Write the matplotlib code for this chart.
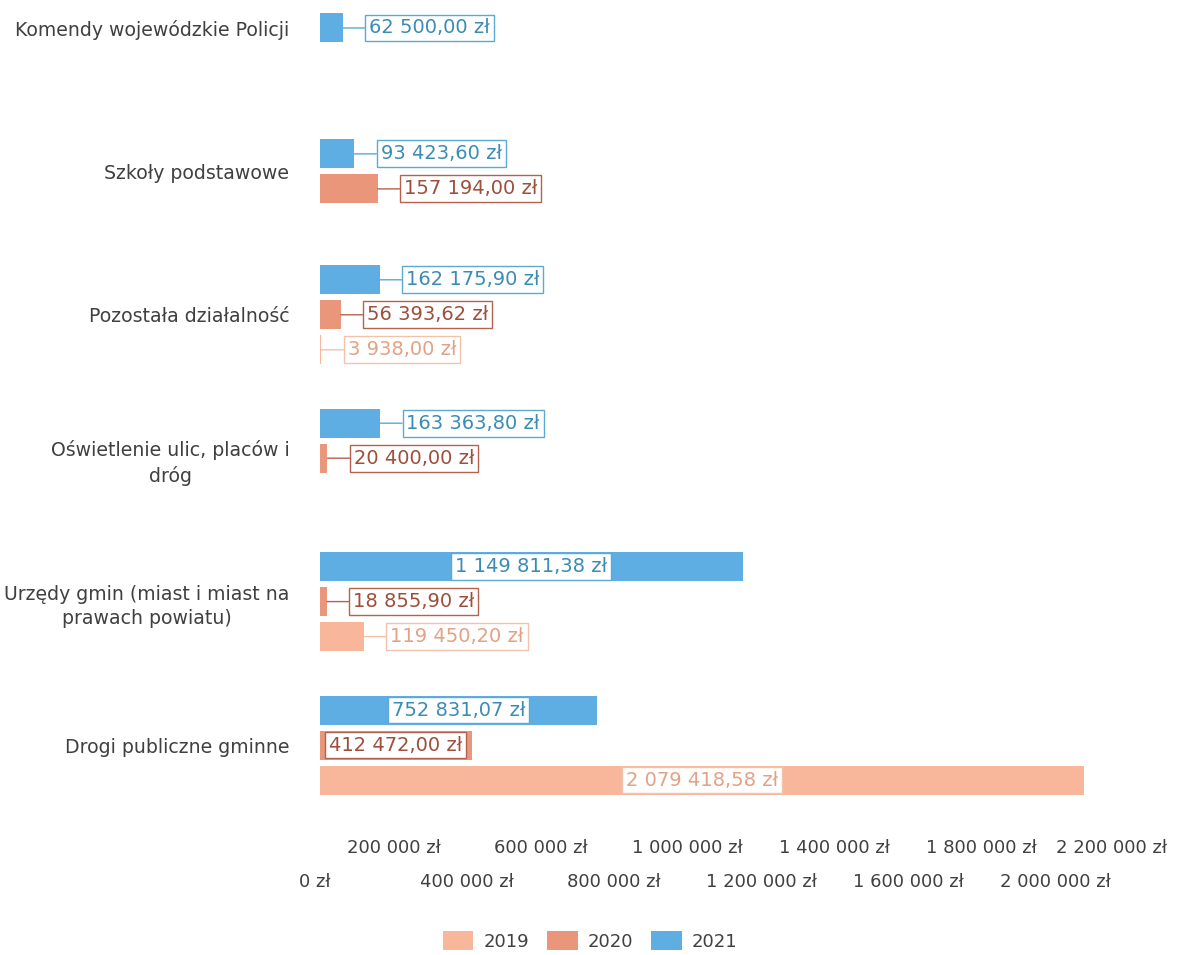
import numpy as np
import matplotlib
matplotlib.use("Agg")
import matplotlib.pyplot as plt
from matplotlib.transforms import ScaledTranslation

plt.rcParams['font.family'] = ['DejaVu Sans']

# kategorie (od góry)
categories = [
    "Komendy wojewódzkie Policji",
    "Szkoły podstawowe",
    "Pozostała działalność",
    "Oświetlenie ulic, placów i\ndróg",
    "Urzędy gmin (miast i miast na\nprawach powiatu)",
    "Drogi publiczne gminne",
]

# wartości (None = brak pozycji w danym roku)
v2021 = [62500.00, 93423.60, 162175.90, 163363.80, 1149811.38, 752831.07]
v2020 = [None, 157194.00, 56393.62, 20400.00, 18855.90, 412472.00]
v2019 = [None, None, 3938.00, 0.0, 119450.20, 2079418.58]

years = ["2021", "2020", "2019"]
series = [v2021, v2020, v2019]
bar_colors = {"2019": "#F8B79A", "2020": "#EA967B", "2021": "#5FAEE3"}
text_colors = {"2019": "#E3A186", "2020": "#9E4E3A", "2021": "#3A8CB5"}
edge_colors = {"2019": "#F2C2AC", "2020": "#B5614D", "2021": "#5AAAD5"}

x_ticks = np.arange(0, 2200001, 200000)


def fmt(v, dec=2):
    s = f"{v:,.{dec}f}".replace(",", " ").replace(".", ",")
    return s + " zł"


pitch = 35 / 143.4
bar_h = 29 / 143.4

fig = plt.figure(figsize=(11.84, 9.55), dpi=100)
ax = fig.add_axes([320 / 1184, 1 - 817 / 955, (1128.5 - 320) / 1184, 817 / 955])

# pozycje słupków - tylko dla istniejących wartości, wyśrodkowane w kategorii
pos = {y: ([], []) for y in years}
for i in range(len(categories)):
    present = [(y, s[i]) for y, s in zip(years, series) if s[i] is not None]
    n = len(present)
    for k, (y, v) in enumerate(present):
        pos[y][0].append(i + (k - (n - 1) / 2) * pitch)
        pos[y][1].append(v)

bars = {}
for y in years:
    bars[y] = ax.barh(pos[y][0], pos[y][1], height=bar_h, color=bar_colors[y],
                      label=y, zorder=2)

# etykiety danych
for y in years:
    for yy, v in zip(*pos[y]):
        if v == 0:
            continue
        box = dict(boxstyle="square,pad=0.2", fc="white", ec=edge_colors[y], lw=1)
        if v >= 400000:
            ax.text(v / 2, yy, fmt(v), ha="center", va="center", fontsize=14,
                    color=text_colors[y], bbox=box, zorder=4)
        else:
            ax.annotate(fmt(v), xy=(v, yy), xytext=(19, 0), textcoords="offset points",
                        ha="left", va="center", fontsize=14, color=text_colors[y],
                        bbox=box, zorder=4,
                        arrowprops=dict(arrowstyle="-", color=edge_colors[y], lw=1,
                                        shrinkA=0, shrinkB=0))

ax.set_xlim(0, 2200000)
ax.set_ylim(5.502, -0.195)

ax.set_yticks(range(len(categories)))
ax.set_yticklabels(categories, fontsize=13.6, color="#404040", multialignment="center",
                   linespacing=1.35)
ax.tick_params(axis="y", length=0, pad=22)

ax.set_xticks(x_ticks)
ax.set_xticklabels([fmt(t, 0) for t in x_ticks], fontsize=13, color="#404040")
ax.tick_params(axis="x", length=0)
for i, t in enumerate(ax.xaxis.get_major_ticks()):
    t.set_pad(40 if i % 2 == 0 else 16)

lbls = ax.get_xticklabels()
lbls[-1].set_transform(lbls[-1].get_transform() + ScaledTranslation(-0.17, 0, fig.dpi_scale_trans))
lbls[0].set_transform(lbls[0].get_transform() + ScaledTranslation(-0.05, 0, fig.dpi_scale_trans))

for s in ax.spines.values():
    s.set_visible(False)

fig.legend([bars["2019"], bars["2020"], bars["2021"]], ["2019", "2020", "2021"],
           loc="center", bbox_to_anchor=(590 / 1184, 1 - 941 / 955), ncol=3,
           frameon=False, fontsize=13, handlelength=1.7, handleheight=1.2,
           handletextpad=0.55, columnspacing=1.0, labelcolor="#404040")

fig.savefig("out.png", dpi=100)
